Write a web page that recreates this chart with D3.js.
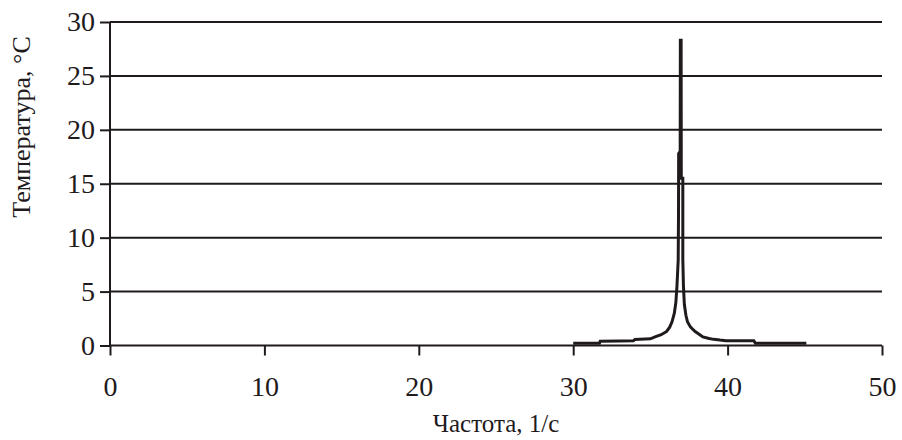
<!DOCTYPE html>
<html>
<head>
<meta charset="utf-8">
<script src="https://cdn.jsdelivr.net/npm/d3@7"></script>
<style>
  html, body { margin: 0; padding: 0; background: #fff; }
  svg { display: block; }
</style>
</head>
<body>
<svg id="chart" width="902" height="440"></svg>
<script>
// Resonance curve: temperature versus excitation frequency
const frequency = [30.0, 31.7, 31.75, 33.0, 33.9, 34.0, 35.0, 35.3, 35.7, 36.05, 36.25, 36.4, 36.55, 36.65, 36.72,
                   36.8, 36.82, 36.83, 36.93, 36.94, 36.99, 37.0, 37.1, 37.1, 37.14, 37.2, 37.3, 37.4, 37.6,
                   37.9, 38.2, 38.4, 38.8, 39.1, 39.5, 39.9, 41.7, 41.8, 45.1];
const temperature = [0.2, 0.2, 0.4, 0.42, 0.45, 0.55, 0.62, 0.8, 1.0, 1.3, 1.7, 2.2, 3.0, 4.0, 5.5,
                     7.9, 12.0, 17.8, 18.0, 28.3, 28.3, 15.5, 15.5, 8.0, 5.5, 3.8, 2.8, 2.2, 1.7,
                     1.3, 1.0, 0.8, 0.65, 0.57, 0.5, 0.45, 0.45, 0.2, 0.2];
const xTicks = [0, 10, 20, 30, 40, 50];
const yTicks = [0, 5, 10, 15, 20, 25, 30];
const xTitle = "Частота, 1/с";
const yTitle = "Температура, °С";

const serif = '"Liberation Serif", "Times New Roman", serif';
const ink = "#1f1b1c";

const svg = d3.select("#chart");
const plotLeft = 110, plotRight = 882, plotTop = 22, plotBottom = 345.5;

const x = d3.scaleLinear().domain([0, 50]).range([plotLeft, plotRight]);
const y = d3.scaleLinear().domain([0, 30]).range([plotBottom, plotTop]);

// horizontal gridlines
svg.append("g")
  .selectAll("line")
  .data(yTicks.filter(d => d > 0))
  .join("line")
  .attr("x1", plotLeft).attr("x2", plotRight)
  .attr("y1", d => y(d)).attr("y2", d => y(d))
  .attr("stroke", ink).attr("stroke-width", 2);

// y axis
const yAxis = svg.append("g")
  .attr("transform", `translate(${plotLeft},0)`)
  .attr("font-family", null)
  .call(d3.axisLeft(y).tickValues(yTicks).tickSize(10).tickPadding(5).tickFormat(d3.format("d")));
yAxis.attr("font-family", serif);
yAxis.select(".domain").attr("stroke", ink).attr("stroke-width", 2).attr("d", `M0,${plotTop}V${plotBottom}`);
yAxis.selectAll(".tick line").attr("stroke", ink).attr("stroke-width", 2);
yAxis.selectAll(".tick text")
  .style("font-family", serif).style("font-size", "28px").style("fill", ink);

// x axis
const xAxis = svg.append("g")
  .attr("transform", `translate(0,${plotBottom})`)
  .call(d3.axisBottom(x).tickValues(xTicks).tickSize(10).tickPadding(21).tickFormat(d3.format("d")));
xAxis.attr("font-family", serif);
xAxis.select(".domain").attr("stroke", ink).attr("stroke-width", 2).attr("d", `M${plotLeft},0H${plotRight}`);
xAxis.selectAll(".tick line").attr("stroke", ink).attr("stroke-width", 2);
xAxis.selectAll(".tick text")
  .style("font-family", serif).style("font-size", "28px").style("fill", ink);

// axis titles
svg.append("text")
  .attr("x", (plotLeft + plotRight) / 2).attr("y", 432)
  .attr("text-anchor", "middle")
  .style("font-family", serif).style("font-size", "25px").style("fill", ink)
  .text(xTitle);

svg.append("text")
  .attr("transform", "translate(30,127) rotate(-90)")
  .attr("text-anchor", "middle")
  .style("font-family", serif).style("font-size", "26px").style("fill", ink)
  .text(yTitle);

// the curve
const line = d3.line().x((d, i) => x(frequency[i])).y(d => y(d));
svg.append("path")
  .datum(temperature)
  .attr("d", line)
  .attr("fill", "none")
  .attr("stroke", ink)
  .attr("stroke-width", 3)
  .attr("stroke-linejoin", "miter");
</script>
</body>
</html>
